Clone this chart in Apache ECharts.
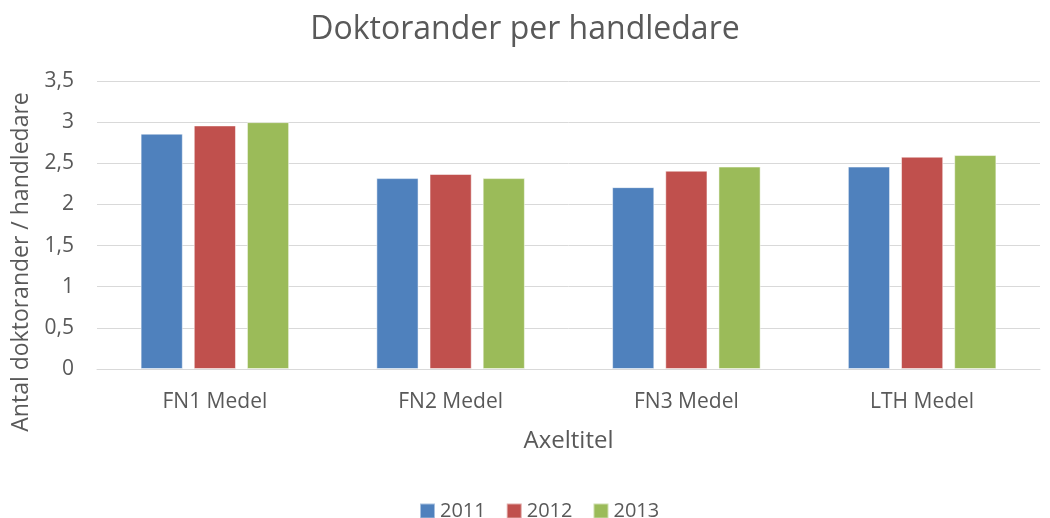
<!DOCTYPE html>
<html>
<head>
<meta charset="utf-8">
<script src="https://cdn.jsdelivr.net/npm/echarts@6/dist/echarts.min.js"></script>
<style>
  html, body { margin: 0; padding: 0; background: #fff; }
  #chart { width: 1050px; height: 518px; }
</style>
</head>
<body>
<div id="chart"></div>
<script>
// data
const categories = ['FN1 Medel', 'FN2 Medel', 'FN3 Medel', 'LTH Medel']
const years = ['2011', '2012', '2013']
const values2011 = [2.86, 2.32, 2.21, 2.46]
const values2012 = [2.96, 2.37, 2.41, 2.58]
const values2013 = [3.0, 2.32, 2.46, 2.6]
const colors = ['#4F81BD', '#C0504D', '#9BBB59']

const fontFamily = '"Open Sans", "Noto Sans", sans-serif'
const textColor = '#595959'

const chart = echarts.init(document.getElementById('chart'), null, { renderer: 'canvas' })

const seriesData = [values2011, values2012, values2013]

chart.setOption({
  animation: false,
  backgroundColor: '#fff',
  color: colors,
  title: {
    text: 'Doktorander per handledare',
    left: 'center',
    top: 9,
    textStyle: { color: textColor, fontSize: 32, fontWeight: 'normal', fontFamily },
  },
  legend: {
    top: 496,
    left: 414,
    itemWidth: 15,
    itemHeight: 15,
    itemGap: 20,
    icon: 'rect',
    data: years,
    textStyle: { color: textColor, fontSize: 20, fontFamily },
  },
  grid: {
    left: 97,
    right: 10,
    top: 81,
    bottom: 149,
    outerBoundsMode: 'none',
  },
  xAxis: {
    type: 'category',
    data: categories,
    name: 'Axeltitel',
    nameLocation: 'middle',
    nameGap: 60,
    nameTextStyle: { color: textColor, fontSize: 24, fontFamily },
    axisLine: { lineStyle: { color: '#d9d9d9' } },
    axisTick: { show: false },
    axisLabel: { color: textColor, fontSize: 21, fontFamily, margin: 23 },
  },
  yAxis: {
    type: 'value',
    min: 0,
    max: 3.5,
    interval: 0.5,
    name: 'Antal doktorander / handledare',
    nameLocation: 'middle',
    nameGap: 64,
    nameTextStyle: { color: textColor, fontSize: 23, fontFamily, padding: [0, 74, 0, 0] },
    axisLine: { show: false },
    axisTick: { show: false },
    axisLabel: {
      color: textColor,
      fontSize: 21,
      fontFamily,
      margin: 23,
      formatter: (v) => String(v).replace('.', ','),
    },
    splitLine: { lineStyle: { color: '#d9d9d9' } },
  },
  series: years.map((y, i) => ({
    name: y,
    type: 'bar',
    data: seriesData[i],
    barGap: '26%',
    barCategoryGap: '37%',
    itemStyle: { color: colors[i], borderColor: 'rgba(255,255,255,0.5)', borderWidth: 1 },
  })),
})
</script>
</body>
</html>
